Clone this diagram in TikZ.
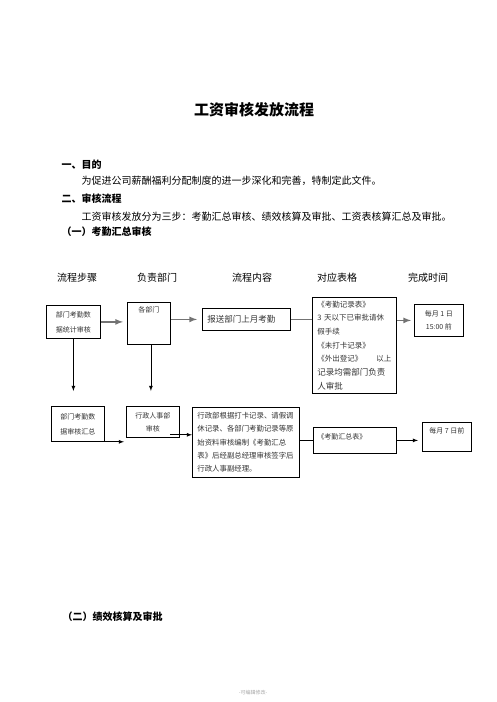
\documentclass[tikz,border=0pt]{standalone}
\usepackage{fontspec}
\newfontfamily\cjk{Noto Sans CJK SC}
\usepackage{tikz}
\usetikzlibrary{arrows}
\newcommand\boxfont[2]{\cjk\fontsize{#1}{#2}\selectfont}

\begin{document}
\begin{tikzpicture}[x=1pt,y=-1pt,every path/.style={line width=.8pt}]
  \tikzstyle{box} = [draw,anchor=north west,inner sep=0pt,align=center,text=black!80,font=\boxfont{7}{12.5}];
  \tikzstyle{hd} = [font=\boxfont{10}{12}];
  \tikzstyle{sec} = [anchor=west,font=\boxfont{10}{12}\bfseries];
  \tikzset{garr/.style={-latex,line width=1.6pt,draw=black!55},
    gline/.style={line width=1.2pt,draw=black!55},
    barr/.style={-latex,line width=.8pt}};
  \useasboundingbox (0,0) rectangle (496,702);
  \node[font=\boxfont{15}{18}\bfseries] (title) at (254,110) {工资审核发放流程};
  \node[sec] (s1) at (58,165) {一、目的};
  \node[hd,anchor=west] (p1) at (78,181) {为促进公司薪酬福利分配制度的进一步深化和完善，特制定此文件。};
  \node[sec] (s2) at (58,199) {二、审核流程};
  \node[hd,anchor=west] (p2) at (78,217) {工资审核发放分为三步：考勤汇总审核、绩效核算及审批、工资表核算汇总及审批。};
  \node[sec] (s3) at (58,232) {（一）考勤汇总审核};
  \node[sec] (s4) at (59,617) {（二）绩效核算及审批};
  \node[hd] (h1) at (77,278) {流程步骤};
  \node[hd] (h2) at (157,278) {负责部门};
  \node[hd] (h3) at (252,278) {流程内容};
  \node[hd] (h4) at (337,278) {对应表格};
  \node[hd] (h5) at (428,278) {完成时间};
  \node[box,minimum width=54pt,minimum height=33pt,font=\boxfont{7}{15}] (b1) at (46,305) {部门考勤数\\据统计审核};
  \node[box,minimum width=43pt,text height=10.5pt,text depth=31.5pt] (b2) at (127,302) {各部门};
  \node[box,text width=78pt,inner xsep=5pt,minimum height=22pt,align=left,font=\boxfont{8.5}{10}] (b3) at (202,308) {报送部门上月考勤};
  \node[box,text width=74pt,inner xsep=5pt,minimum height=96pt,align=left,font=\boxfont{7.5}{13.7}] (b4) at (312,297)
    {《考勤记录表》\\3 天以下已审批请休\\假手续\\《未打卡记录》\\《外出登记》\hfill 以上\\\fontsize{8.5}{13.7}\selectfont 记录均需部门负责\\人审批};
  \node[box,minimum width=49pt,minimum height=32pt] (b5) at (414,304) {每月 1 日\\15:00 前};
  \node[box,minimum width=53pt,minimum height=35pt,font=\boxfont{7}{15}] (b6) at (51,406) {部门考勤数\\据审核汇总};
  \node[box,minimum width=53pt,minimum height=31pt,font=\boxfont{7}{13}] (b7) at (126,406) {行政人事部\\审核};
  \node[box,text width=97pt,inner xsep=5pt,minimum height=70pt,align=left,font=\boxfont{7.4}{13.3}] (b8) at (192,407)
    {行政部根据打卡记录、请假调\\休记录、各部门考勤记录等原\\始资料审核编制《考勤汇总\\表》后经副总经理审核签字后\\行政人事副经理。};
  \node[box,text width=75pt,inner xsep=4pt,align=left,text height=12pt,text depth=14pt] (b9) at (313,427) {《考勤汇总表》};
  \node[box,minimum width=49pt,text height=11pt,text depth=18pt] (b10) at (422,422) {每月 7 日前};
  \draw[garr,shorten >=4pt] (b1.east) -- (b1.east -| b2.west);
  \draw[garr,shorten >=5pt] (b2.east |- b3.west) -- (b3.west);
  \draw[gline] (b3.east) -- (b3.east -| b4.west);
  \draw[garr,shorten >=3pt] (b4.east |- b5.west) -- (b5.west);
  \draw[barr,shorten >=15pt] (b1.south) -- (b1.south |- b6.north);
  \draw[barr,shorten >=15pt] ([xshift=2pt]b2.south) -- ([xshift=2pt]b2.south |- b7.north);
  \draw[barr,shorten >=2pt] (b6.south east) -- (b6.south east -| b7.west);
  \draw[barr] ([xshift=-10pt,yshift=3pt]b7.south east) -- ([yshift=3pt]b7.south east -| b8.west);
  \draw (b8.east |- b9.west) -- (b9.west);
  \draw[barr,shorten >=4pt] (b9.east) -- (b9.east -| b10.west);
  \node[font=\boxfont{5}{6},text=black!35] (foot) at (253,693) {-可编辑修改-};
\end{tikzpicture}
\end{document}
